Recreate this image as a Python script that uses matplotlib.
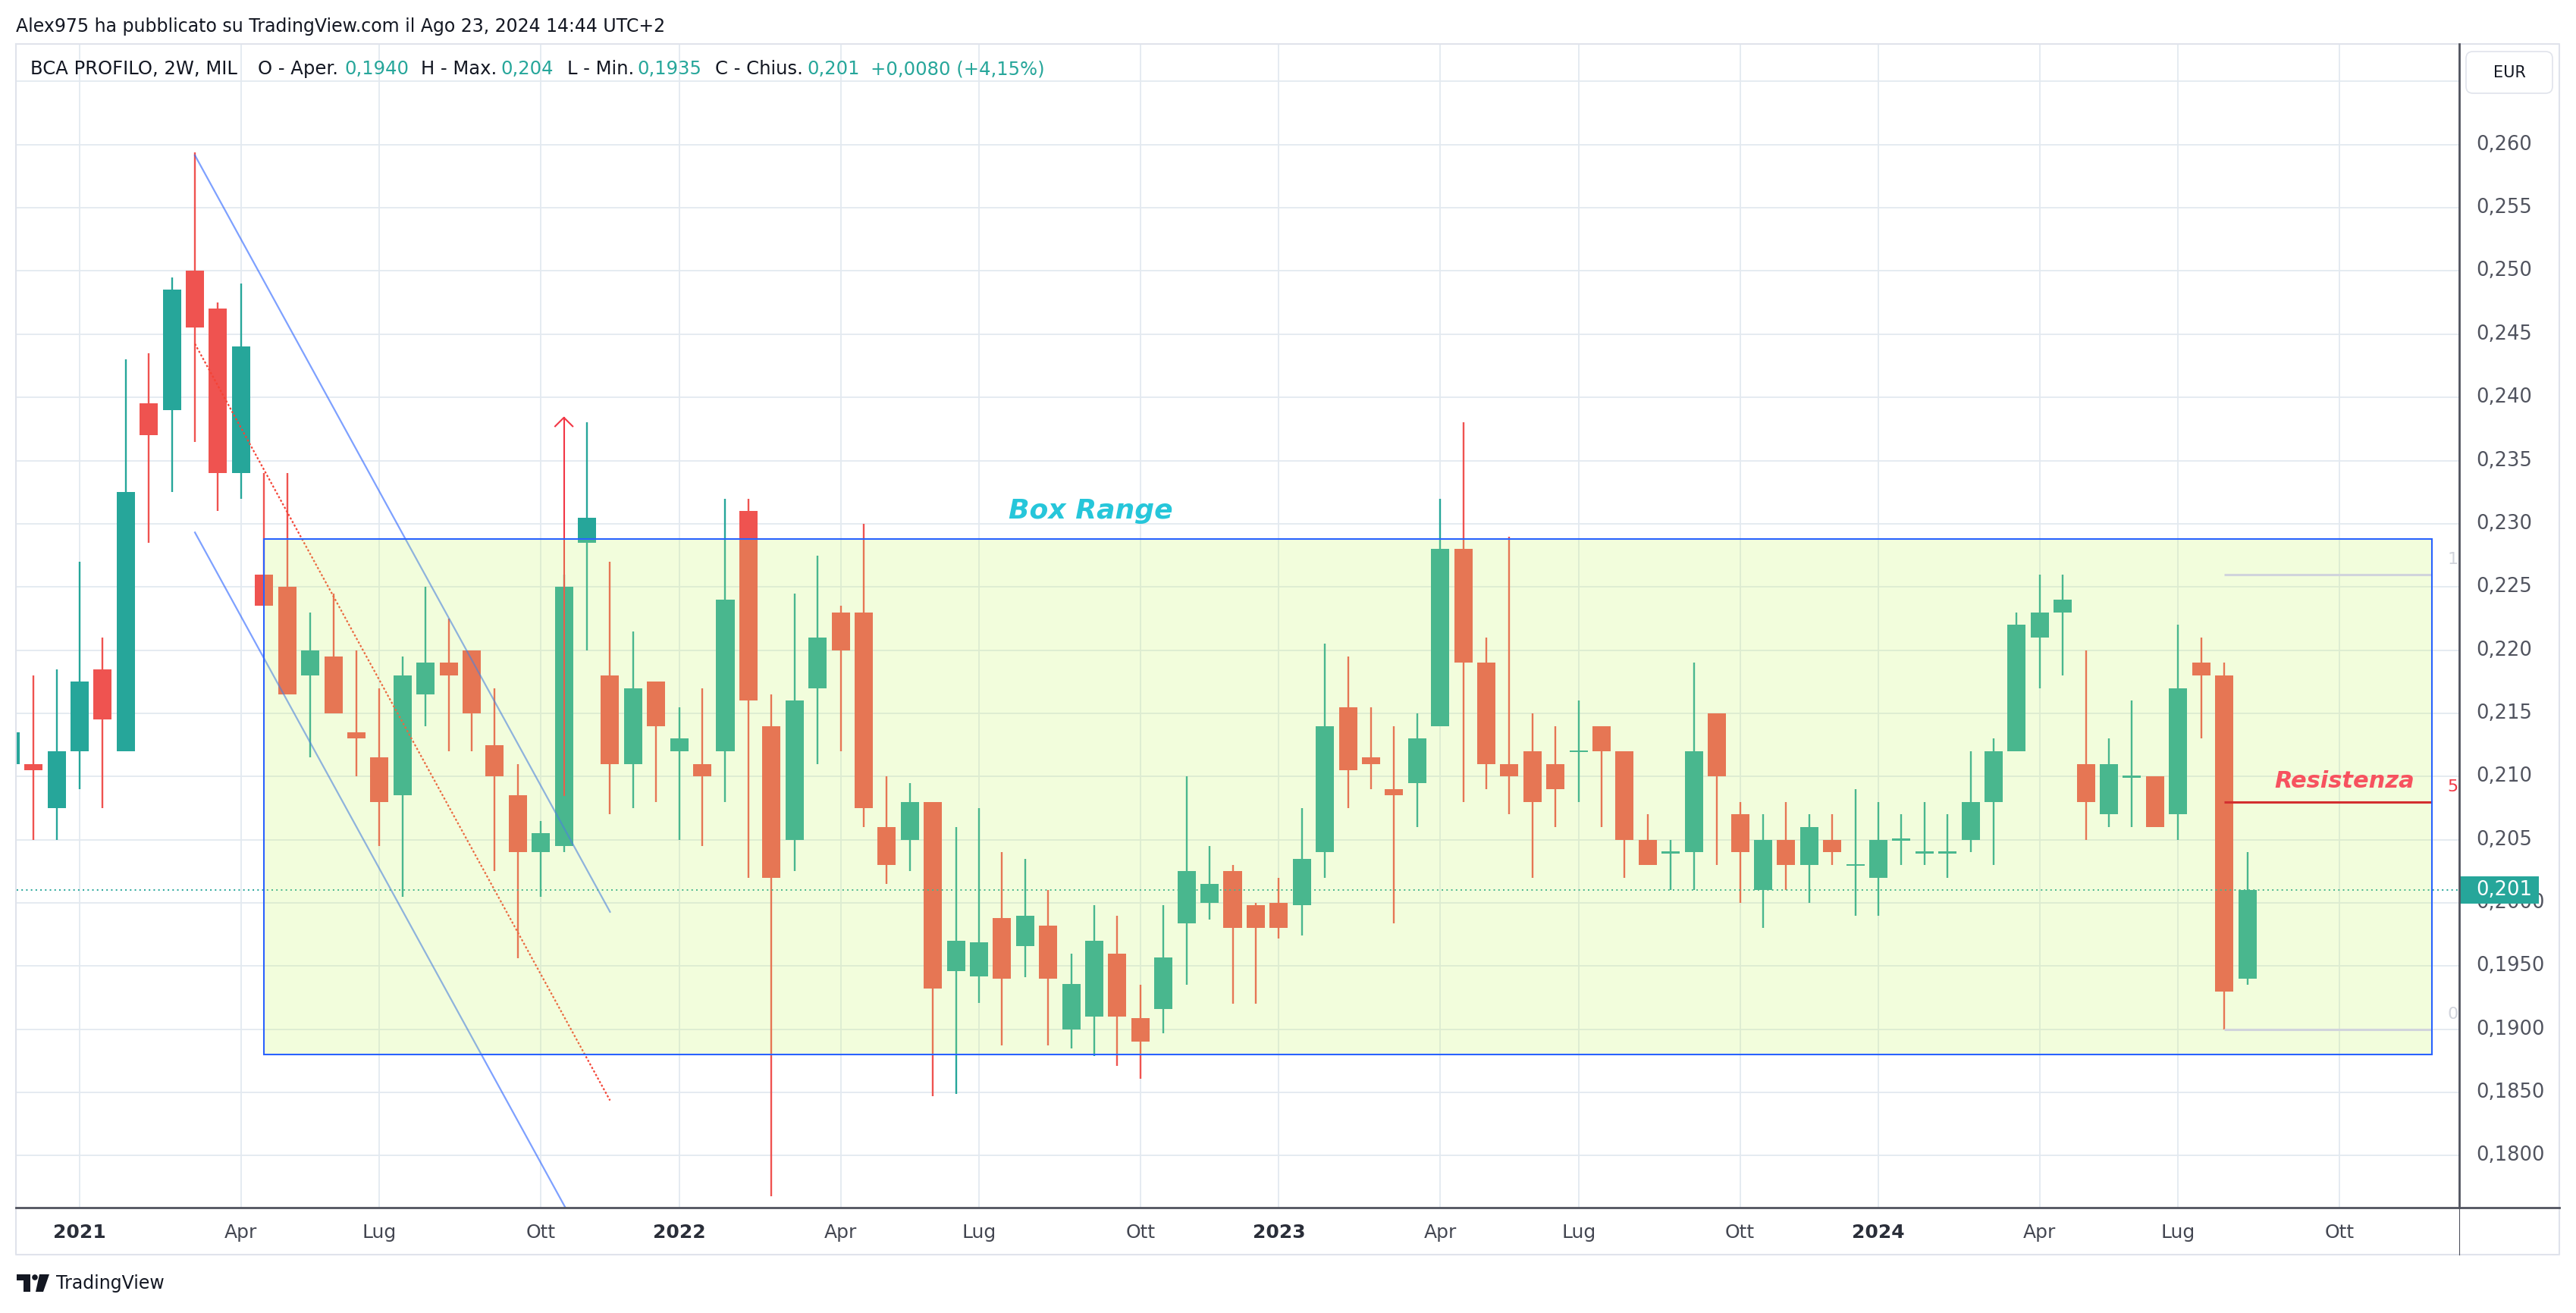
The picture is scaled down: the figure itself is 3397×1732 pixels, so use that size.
import numpy as np
import pandas as pd
import matplotlib
matplotlib.use("Agg")
import matplotlib.pyplot as plt
import matplotlib.transforms as mtransforms
from matplotlib.patches import Rectangle, FancyBboxPatch, Polygon, Circle
from matplotlib.lines import Line2D

plt.rcParams["font.family"] = ["DejaVu Sans"]

# ---- BCA PROFILO, 2W bars (MIL), first bar starts 2020-11-23 ----
first_bar = "2020-11-23"
opens = [0.2110, 0.2110, 0.2075, 0.2120, 0.2185, 0.2120, 0.2395, 0.2390, 0.2500, 0.2470,
         0.2340, 0.2260, 0.2250, 0.2180, 0.2195, 0.2135, 0.2115, 0.2085, 0.2165, 0.2190,
         0.2200, 0.2125, 0.2085, 0.2040, 0.2045, 0.2285, 0.2180, 0.2110, 0.2175, 0.2120,
         0.2110, 0.2120, 0.2310, 0.2140, 0.2050, 0.2170, 0.2230, 0.2230, 0.2060, 0.2050,
         0.2080, 0.1946, 0.1942, 0.1988, 0.1966, 0.1982, 0.1900, 0.1910, 0.1960, 0.1909,
         0.1916, 0.1984, 0.2000, 0.2025, 0.1998, 0.2000, 0.1998, 0.2040, 0.2155, 0.2115,
         0.2090, 0.2095, 0.2140, 0.2280, 0.2190, 0.2110, 0.2120, 0.2110, 0.2120, 0.2140,
         0.2120, 0.2050, 0.2040, 0.2040, 0.2150, 0.2070, 0.2010, 0.2050, 0.2030, 0.2050,
         0.2030, 0.2020, 0.2050, 0.2040, 0.2040, 0.2050, 0.2080, 0.2120, 0.2210, 0.2230,
         0.2110, 0.2070, 0.2100, 0.2100, 0.2070, 0.2190, 0.2180, 0.1940]
highs = [0.2140, 0.2180, 0.2185, 0.2270, 0.2210, 0.2430, 0.2435, 0.2495, 0.2594, 0.2475,
         0.2490, 0.2340, 0.2340, 0.2230, 0.2245, 0.2200, 0.2170, 0.2195, 0.2250, 0.2225,
         0.2200, 0.2170, 0.2110, 0.2065, 0.2260, 0.2380, 0.2270, 0.2215, 0.2175, 0.2155,
         0.2170, 0.2320, 0.2320, 0.2165, 0.2245, 0.2275, 0.2235, 0.2300, 0.2100, 0.2095,
         0.2080, 0.2060, 0.2075, 0.2040, 0.2035, 0.2010, 0.1960, 0.1998, 0.1990, 0.1935,
         0.1998, 0.2100, 0.2045, 0.2030, 0.2000, 0.2020, 0.2075, 0.2205, 0.2195, 0.2155,
         0.2140, 0.2150, 0.2320, 0.2380, 0.2210, 0.2290, 0.2150, 0.2140, 0.2160, 0.2140,
         0.2120, 0.2070, 0.2050, 0.2190, 0.2150, 0.2080, 0.2070, 0.2080, 0.2070, 0.2070,
         0.2090, 0.2080, 0.2070, 0.2080, 0.2070, 0.2120, 0.2130, 0.2230, 0.2260, 0.2260,
         0.2200, 0.2130, 0.2160, 0.2100, 0.2220, 0.2210, 0.2190, 0.2040]
lows = [0.2105, 0.2050, 0.2050, 0.2090, 0.2075, 0.2120, 0.2285, 0.2325, 0.2365, 0.2310,
        0.2320, 0.2235, 0.2165, 0.2115, 0.2150, 0.2100, 0.2045, 0.2005, 0.2140, 0.2120,
        0.2120, 0.2025, 0.1956, 0.2005, 0.2040, 0.2200, 0.2070, 0.2075, 0.2080, 0.2050,
        0.2045, 0.2080, 0.2020, 0.1768, 0.2025, 0.2110, 0.2120, 0.2060, 0.2015, 0.2025,
        0.1847, 0.1849, 0.1921, 0.1887, 0.1941, 0.1887, 0.1885, 0.1879, 0.1871, 0.1861,
        0.1897, 0.1935, 0.1987, 0.1920, 0.1920, 0.1972, 0.1974, 0.2020, 0.2075, 0.2090,
        0.1984, 0.2060, 0.2140, 0.2080, 0.2090, 0.2070, 0.2020, 0.2060, 0.2080, 0.2060,
        0.2020, 0.2030, 0.2010, 0.2010, 0.2030, 0.2000, 0.1980, 0.2010, 0.2000, 0.2030,
        0.1990, 0.1990, 0.2030, 0.2030, 0.2020, 0.2040, 0.2030, 0.2120, 0.2170, 0.2180,
        0.2050, 0.2060, 0.2060, 0.2060, 0.2050, 0.2130, 0.1900, 0.1935]
closes = [0.2135, 0.2105, 0.2120, 0.2175, 0.2145, 0.2325, 0.2370, 0.2485, 0.2455, 0.2340,
          0.2440, 0.2235, 0.2165, 0.2200, 0.2150, 0.2130, 0.2080, 0.2180, 0.2190, 0.2180,
          0.2150, 0.2100, 0.2040, 0.2055, 0.2250, 0.2305, 0.2110, 0.2170, 0.2140, 0.2130,
          0.2100, 0.2240, 0.2160, 0.2020, 0.2160, 0.2210, 0.2200, 0.2075, 0.2030, 0.2080,
          0.1932, 0.1970, 0.1969, 0.1940, 0.1990, 0.1940, 0.1936, 0.1970, 0.1910, 0.1890,
          0.1957, 0.2025, 0.2015, 0.1980, 0.1980, 0.1980, 0.2035, 0.2140, 0.2105, 0.2110,
          0.2085, 0.2130, 0.2280, 0.2190, 0.2110, 0.2100, 0.2080, 0.2090, 0.2120, 0.2120,
          0.2050, 0.2030, 0.2040, 0.2120, 0.2100, 0.2040, 0.2050, 0.2030, 0.2060, 0.2040,
          0.2030, 0.2050, 0.2050, 0.2040, 0.2040, 0.2080, 0.2120, 0.2220, 0.2230, 0.2240,
          0.2080, 0.2110, 0.2100, 0.2060, 0.2170, 0.2180, 0.1930, 0.2010]

last_close = 0.201
box_low, box_high = 0.1880, 0.2288          # "Box Range" rectangle
fib_levels = [0.190, 0.208, 0.226]
fib_labels = ["0%", "50%", "100%"]
chan_top = (0.25915, 0.19929)               # parallel channel, upper line
chan_low_start = 0.22931                    # lower line start
arrow_from, arrow_to = 0.2085, 0.2384
price_ticks = np.round(np.arange(0.180, 0.2651, 0.005), 3)
month_names = {4: "Apr", 7: "Lug", 10: "Ott"}

UP, DOWN = "#26A69A", "#EF5350"
GRID = "#E3E9F0"
AXIS = "#50535E"
TEXT = "#131722"

W, H = 3397, 1732
L, R, T, B = 22, 3243, 58, 1593
fig = plt.figure(figsize=(W / 100, H / 100), dpi=100)
fig.patch.set_facecolor("white")
ax = fig.add_axes([L / W, 1 - B / H, (R - L) / W, (B - T) / H])
ax.set_xlim(0.27, 106.19)
ax.set_ylim(0.17589, 0.26796)
for s in ax.spines.values():
    s.set_visible(False)
ax.set_xticks([])
ax.set_yticks([])

o = np.array(opens); h = np.array(highs); lo = np.array(lows); c = np.array(closes)
x = np.arange(len(o))
dates = pd.date_range(first_bar, periods=len(o) + 10, freq="14D")

# quarter ticks = first bar of Jan/Apr/Jul/Oct
xticks, xlabels = [], []
for i in range(1, len(dates)):
    d, p = dates[i], dates[i - 1]
    if d.month != p.month and d.month in (1, 4, 7, 10):
        xticks.append(i)
        xlabels.append(str(d.year) if d.month == 1 else month_names[d.month])

# grid
for t in price_ticks:
    ax.axhline(t, color=GRID, lw=1.3, zorder=0)
for xt in xticks:
    ax.axvline(xt, color=GRID, lw=1.3, zorder=0)

# candles
col = np.where(c >= o, UP, DOWN)
ax.vlines(x, lo, h, colors=col, lw=1.7, zorder=2)
body_lo = np.minimum(o, c)
body_h = np.abs(c - o)
doji = body_h < 0.00015
body_lo = np.where(doji, c - 0.000075, body_lo)
body_h = np.where(doji, 0.00015, body_h)
ax.bar(x, body_h, bottom=body_lo, width=0.79, color=col, lw=0, zorder=2.1)

# parallel channel (drawn under the box fill)
x0, x1 = 8, 26
drop = chan_top[0] - chan_top[1]
ax.plot([x0, x1], list(chan_top), color="#2962FF", alpha=0.6, lw=1.6, zorder=2.5)
ax.plot([x0, x1], [chan_low_start, chan_low_start - drop], color="#2962FF", alpha=0.6, lw=1.6, zorder=2.5)
mid0 = (chan_top[0] + chan_low_start) / 2
ax.plot([x0, x1], [mid0, mid0 - drop], color="#F44336", lw=1.6, ls=(0, (1.2, 1.2)), zorder=2.5)

# red arrow
ax.plot([24, 24], [arrow_from, arrow_to], color="#F23645", lw=1.5, zorder=2.5)
ax.plot([23.62, 24, 24.38], [arrow_to - 0.00069, arrow_to, arrow_to - 0.00069],
        color="#F23645", lw=1.5, zorder=2.5)

# last price dotted line
ax.axhline(last_close, color=UP, lw=1.4, ls=(0, (1, 2.2)), zorder=2.5)

# box range
ax.add_patch(Rectangle((11, box_low), 94, box_high - box_low,
                       facecolor=(200 / 255, 246 / 255, 100 / 255, 0.22), edgecolor="none", zorder=3))
ax.add_patch(Rectangle((11, box_low), 94, box_high - box_low,
                       fill=False, edgecolor="#2962FF", lw=1.5, zorder=6))
ax.text(46.85, 0.2310, "Box Range", color="#26C6DA", fontsize=26, fontweight="bold",
        fontstyle="italic", ha="center", va="center", zorder=7)

# fib levels
for lev, lab in zip(fib_levels, fib_labels):
    mid = lab == "50%"
    ax.plot([96, 105], [lev, lev], color="#D32F2F" if mid else "#D1D4DC", lw=2.2, zorder=5,
            solid_capstyle="butt")
    ax.text(105.69, lev + 0.0012, lab, color="#F23645" if mid else "#D1D4DC", fontsize=16,
            ha="left", va="center", clip_on=True, zorder=5)
ax.text(101.22, 0.20963, "Resistenza", color="#F7525F", fontsize=22, fontweight="bold",
        fontstyle="italic", ha="center", va="center", zorder=7)

# price axis labels
ty = mtransforms.blended_transform_factory(ax.transAxes, ax.transData)
lx = 1 + 22 / (R - L)
for t in price_ticks:
    if t > 0.2601:
        continue
    s = f"{t:.3f}" if t > 0.2004 else f"{t:.4f}"
    ax.text(lx, t, s.replace(".", ","), transform=ty, ha="left", va="center",
            fontsize=18.5, color=AXIS, clip_on=False, zorder=8)
dy = 18 / 16671
ax.add_patch(Rectangle((1.0, last_close - dy), 105 / (R - L), 2 * dy, transform=ty,
                       facecolor=UP, edgecolor="none", clip_on=False, zorder=10))
ax.text(lx, last_close, f"{last_close:.3f}".replace(".", ","), transform=ty, ha="left",
        va="center", fontsize=18.5, color="white", clip_on=False, zorder=11)

# time axis labels
tx = mtransforms.blended_transform_factory(ax.transData, ax.transAxes)
for xt, lab in zip(xticks, xlabels):
    year = lab.isdigit()
    ax.text(xt, -33 / (B - T), lab, transform=tx, ha="center", va="center", fontsize=18,
            fontweight="bold" if year else "normal", color="#2A2E39" if year else "#434651",
            clip_on=False)

# ---- frame, header, legend (pixel coordinates) ----
px = mtransforms.IdentityTransform()


def line(xs, ys, **kw):
    fig.add_artist(Line2D(xs, [H - y for y in ys], transform=px, **kw))


line([21, 3375, 3375, 21, 21], [58, 58, 1655, 1655, 58], color="#E0E3EB", lw=1.5)
line([21, 3375], [1593, 1593], color=AXIS, lw=2.0)
line([3243, 3243], [58, 1593], color=AXIS, lw=2.0)
line([3243, 3243], [1593, 1655], color=AXIS, lw=0.8)

fig.add_artist(FancyBboxPatch((3252, H - 123), 114, 55, boxstyle="round,pad=0,rounding_size=9",
                              transform=px, facecolor="white", edgecolor="#E0E3EB", lw=1.2))
fig.text(3309, H - 96, "EUR", transform=px, ha="center", va="center", fontsize=15, color=TEXT)

fig.text(21, H - 35, "Alex975 ha pubblicato su TradingView.com il Ago 23, 2024 14:44 UTC+2",
         transform=px, ha="left", va="center", fontsize=17, color=TEXT)

legend = [(40, "BCA PROFILO, 2W, MIL", TEXT), (340, "O - Aper.", TEXT), (454, "0,1940", UP),
          (555, "H - Max.", TEXT), (660, "0,204", UP), (748, "L - Min.", TEXT),
          (840, "0,1935", UP), (943, "C - Chius.", TEXT), (1064, "0,201", UP),
          (1148, "+0,0080 (+4,15%)", UP)]
for xp, s, cc in legend:
    fig.text(xp, H - 91, s, transform=px, ha="left", va="center", fontsize=17.5, color=cc)

# TradingView logo
fig.add_artist(Polygon([(22, H - 1681), (40, H - 1681), (40, H - 1704), (31, H - 1704),
                        (31, H - 1689), (22, H - 1689)], closed=True, transform=px,
                       facecolor=TEXT, edgecolor="none"))
fig.add_artist(Circle((46, H - 1685), 3.8, transform=px, facecolor=TEXT, edgecolor="none"))
fig.add_artist(Polygon([(52, H - 1681), (65, H - 1681), (57, H - 1704), (47, H - 1704)],
                       closed=True, transform=px, facecolor=TEXT, edgecolor="none"))
fig.text(74, H - 1693, "TradingView", transform=px, ha="left", va="center", fontsize=17,
         color=TEXT)

fig.savefig("out.png", dpi=100, facecolor="white")
